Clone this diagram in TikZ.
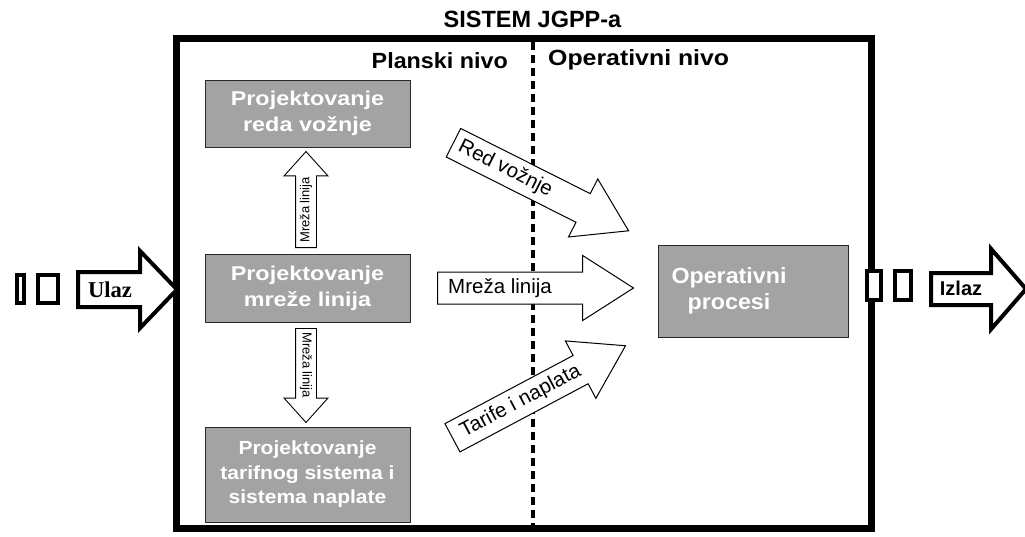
\documentclass[tikz,border=0pt]{standalone}
\usepackage{fontspec}
\setmainfont{Liberation Sans}
\newfontfamily\serifbold{Liberation Serif}
\newfontfamily\wideA{Liberation Sans}[FakeStretch=1.17]
\newfontfamily\wideB{Liberation Sans}[FakeStretch=1.107]
\newfontfamily\wideC{Liberation Sans}[FakeStretch=1.057]
\newfontfamily\wideP{Liberation Sans}[FakeStretch=1.06]
\newfontfamily\wideO{Liberation Sans}[FakeStretch=1.13]
\usetikzlibrary{shapes.arrows,calc}

\definecolor{boxgray}{RGB}{163,163,163}
\definecolor{boxedge}{RGB}{40,40,40}

\begin{document}
\begin{tikzpicture}[x=1pt,y=-1pt,
  procbox/.style={draw=boxedge, line width=1pt, fill=boxgray, inner sep=0pt,
    text=white, align=center},
  % block arrows: the shaft width is twice the inner ysep
  flowarrow/.style={single arrow, draw=black, fill=white, line width=1pt,
    inner xsep=0pt, inner ysep=15.5pt, minimum height=196pt,
    single arrow head extend=16.5pt, single arrow tip angle=65.2, anchor=tail},
  linkarrow/.style={single arrow, draw=black, fill=white, line width=0.9pt,
    inner xsep=0pt, inner ysep=10pt,
    single arrow head extend=11.5pt, single arrow tip angle=84, anchor=tail},
  ioarrow/.style={single arrow, draw=black, fill=white, line width=4pt,
    inner xsep=0pt, anchor=tail, line join=miter},
  iobox/.style={draw=black, fill=white, line width=4pt, inner sep=0pt},
  flowtext/.style={font=\fontsize{20.5}{24}\selectfont, inner sep=0pt, anchor=west},
  linktext/.style={font=\fontsize{13}{15}\selectfont, inner sep=0pt, anchor=west},
  divider/.style={line width=3.5pt, dash pattern=on 8pt off 5pt}
]
\useasboundingbox (0,0) rectangle (1025,536);

% title and the system frame
\node[font=\bfseries\fontsize{23.5}{28}\selectfont, anchor=base, inner sep=0pt]
  (title) at (532.5,27) {SISTEM JGPP-a};
\draw[line width=7pt, line join=miter] (176,38) rectangle (871,528.5);

% boundary between planning and operational level
\coordinate (divtop) at (533,42);
\coordinate (divbot) at (533,525);
\draw[divider] (divtop) -- (divbot);

\node[font=\wideP\bfseries\fontsize{22}{26}\selectfont, anchor=base east, inner sep=0pt]
  (plan) at (508,68) {Planski nivo};
\node[font=\wideO\bfseries\fontsize{22}{26}\selectfont, anchor=base west, inner sep=0pt]
  (oper) at (548,65) {Operativni nivo};

% planning activities
\node[procbox, minimum width=205pt, minimum height=67pt,
  font=\wideA\bfseries\fontsize{20}{26}\selectfont]
  (red) at (307.5,113.5) {Projektovanje\\reda vožnje};
\node[procbox, minimum width=205pt, minimum height=68pt,
  font=\wideA\bfseries\fontsize{20}{26}\selectfont]
  (mreza) at (307.5,288) {Projektovanje\\mreže linija};
\node[procbox, minimum width=205pt, minimum height=95pt,
  font=\wideB\bfseries\fontsize{19}{24.5}\selectfont]
  (tarif) at (307.5,474.5) {Projektovanje\\tarifnog sistema i\\sistema naplate};

% operational processes
\node[procbox, minimum width=190pt, minimum height=92pt] (ops) at (753,291) {};
\node[text=white, align=center, inner sep=0pt,
  font=\wideC\bfseries\fontsize{22}{26}\selectfont]
  (opstext) at (729,291) {Operativni\\procesi};

% network of lines passed up and down
\node[linkarrow, rotate=90, minimum height=96pt] (upnet) at (306,248) {};
\node[linktext, rotate=90] (upnettext) at ($(upnet.tail)!5pt!(upnet.tip)$) {Mreža linija};
\node[linkarrow, rotate=-90, minimum height=94pt] (dnnet) at (306,328) {};
\node[linktext, rotate=-90] (dnnettext) at ($(dnnet.tail)!4pt!(dnnet.tip)$) {Mreža linija};

% results handed to the operational level
\node[flowarrow, rotate=-26.7] (tored) at (453,142.5) {};
\node[flowtext, rotate=-26.7] (toredtext) at ($(tored.tail)!7pt!(tored.tip)$) {Red vožnje};
\node[flowarrow] (tomreza) at (437,288) {};
\node[flowtext] (tomrezatext) at ($(tomreza.tail)!11pt!(tomreza.tip)$) {Mreža linija};
\node[flowarrow, rotate=28] (totarif) at (452,438) {};
\node[flowtext, rotate=28] (totariftext) at ($(totarif.tail)!11pt!(totarif.tip)$) {Tarife i naplata};

% input side
\node[iobox, minimum width=7pt, minimum height=28pt] (in1) at (20.5,289) {};
\node[iobox, minimum width=20pt, minimum height=28pt] (in2) at (48,289) {};
\node[ioarrow, inner ysep=15.5pt, minimum height=99pt,
  single arrow head extend=21pt, single arrow tip angle=92.4] (inarr) at (76,289.5) {};
\node[font=\serifbold\bfseries\fontsize{22.6}{26}\selectfont, anchor=base, inner sep=0pt]
  (ulaz) at (110,297) {Ulaz};

% output side
\node[iobox, minimum width=14pt, minimum height=29pt] (out1) at (874,285.5) {};
\node[iobox, minimum width=16pt, minimum height=29pt] (out2) at (903,285.5) {};
\node[ioarrow, inner ysep=14pt, minimum height=95pt,
  single arrow head extend=24pt, single arrow tip angle=98] (outarr) at (929,289) {};
\node[font=\bfseries\fontsize{20}{24}\selectfont, anchor=base, inner sep=0pt]
  (izlaz) at (961,295) {Izlaz};
\end{tikzpicture}
\end{document}
